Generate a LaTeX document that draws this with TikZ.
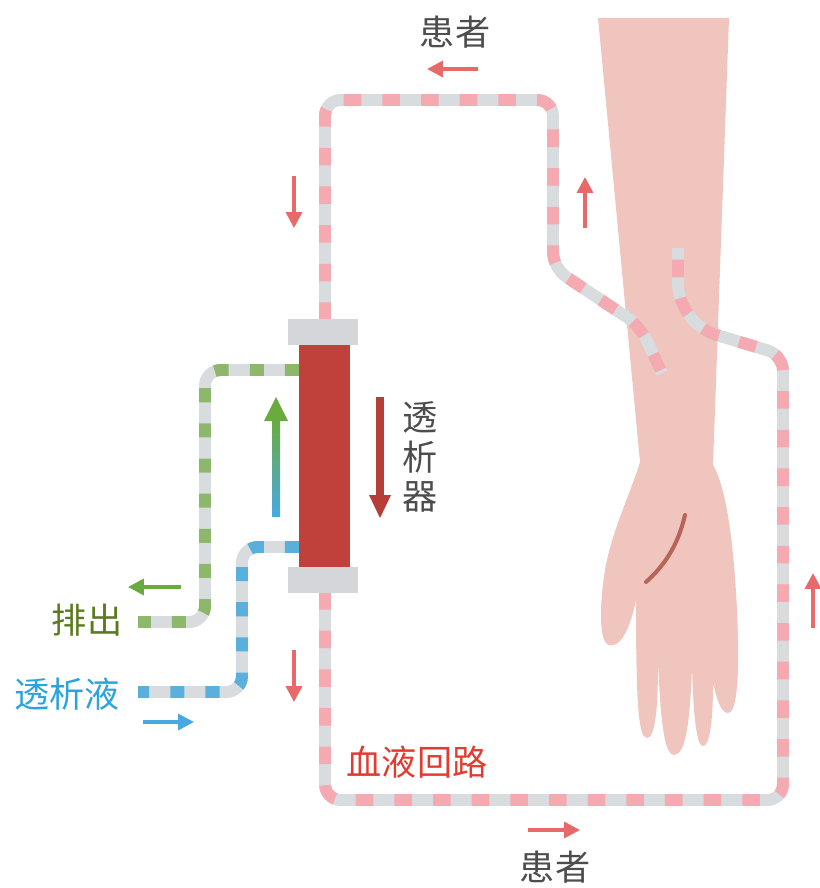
\documentclass[tikz,border=0pt]{standalone}
\usepackage{fontspec}
\setmainfont{Noto Sans CJK SC}
\usetikzlibrary{arrows.meta}

\definecolor{skin}{HTML}{F0C5BE}
\definecolor{scar}{HTML}{B8645A}
\definecolor{tubegray}{HTML}{D8DCDF}
\definecolor{bloodpink}{HTML}{F5A9B1}
\definecolor{drainfill}{HTML}{8DB86C}
\definecolor{fluidfill}{HTML}{5AB0DC}
\definecolor{dlzred}{HTML}{C0403B}
\definecolor{capgray}{HTML}{D4D6D9}
\definecolor{flowred}{HTML}{E8696A}
\definecolor{drainarrow}{HTML}{6AAB40}
\definecolor{fluidarrow}{HTML}{4AA8E0}
\definecolor{labelgray}{HTML}{4D4D4D}
\definecolor{draintext}{HTML}{5B7A1E}
\definecolor{fluidtext}{HTML}{2AA4DC}
\definecolor{circuittext}{HTML}{E03C31}

\begin{document}
\begin{tikzpicture}[x=0.02cm,y=-0.02cm,
  tube/.style={line width=6.8pt,draw=tubegray,rounded corners=9pt},
  blood/.style={tube,postaction={draw=bloodpink,dash pattern=on 10pt off 12pt}},
  drain/.style={tube,postaction={draw=drainfill,dash pattern=on 8pt off 12pt}},
  fluid/.style={tube,postaction={draw=fluidfill,dash pattern=on 8pt off 12pt}},
  flow/.style={line width=2pt,-{Triangle[length=9pt,width=9pt]}},
  lbl/.style={font=\fontsize{20pt}{24pt}\selectfont}]
  \useasboundingbox (0,0) rectangle (819,888);

  % forearm and hand
  \fill[skin] (598,18) -- (729,18) -- (713,465)
    .. controls (728,490) and (736,560) .. (738,640)
    .. controls (739,690) and (735,713) .. (728,713)
    .. controls (720,713) and (716,695) .. (713,683)
    .. controls (713,720) and (710,746) .. (703,746)
    .. controls (695,746) and (693,700) .. (692,667)
    .. controls (690,720) and (686,755) .. (674,755)
    .. controls (662,755) and (660,700) .. (658,663)
    .. controls (658,710) and (655,738) .. (647,738)
    .. controls (638,738) and (636,700) .. (636,600)
    .. controls (630,630) and (620,648) .. (609,645)
    .. controls (598,642) and (600,600) .. (605,570)
    .. controls (612,530) and (630,495) .. (640,462) -- cycle;
  \draw[scar,line width=2.3pt,line cap=round] (685,515) .. controls (678,545) and (665,565) .. (646,582);

  % dialyzer ports
  \coordinate (dtop) at (325,320);
  \coordinate (dbot) at (325,592);
  \coordinate (dout) at (299,370);
  \coordinate (din) at (299,547);

  % blood lines
  \draw[blood] (dtop) -- (325,100) -- (553,100) -- (553,268) -- (640,326) -- (662,373);
  \draw[blood] (dbot) -- (325,800) -- (783,800) -- (783,355) -- (700,330) -- (678,300) -- (678,248);

  % dialysate lines
  \draw[drain] (dout) -- (205,370) -- (205,622) -- (138,622);
  \draw[fluid] (din) -- (242,547) -- (242,692) -- (138,692);

  % dialyzer
  \fill[capgray] (288,319) rectangle (358,345);
  \fill[capgray] (288,567) rectangle (358,593);
  \fill[dlzred] (299,345) rectangle (350,567);

  % flow inside the dialyzer
  \shade[bottom color=fluidarrow,top color=drainarrow] (272,516) rectangle (280,420);
  \fill[drainarrow] (264,421) -- (288,421) -- (276,397) -- cycle;
  \fill[dlzred!95!black] (376,397) rectangle (384,496);
  \fill[dlzred!95!black] (369,495) -- (391,495) -- (380,518) -- cycle;

  % flow arrows
  \draw[flow,flowred] (478,69) -- (427,69);
  \draw[flow,flowred] (294,176) -- (294,228);
  \draw[flow,flowred] (585,228) -- (585,177);
  \draw[flow,flowred] (294,650) -- (294,702);
  \draw[flow,flowred] (813,628) -- (813,573);
  \draw[flow,flowred] (528,830) -- (580,830);
  \draw[flow,drainarrow] (181,587) -- (128,587);
  \draw[flow,fluidarrow] (143,722) -- (194,722);

  % labels
  \node[lbl,text=labelgray] (ptop) at (455,32) {患者};
  \node[lbl,text=labelgray] (pbot) at (555,867) {患者};
  \node[lbl,text=labelgray,align=center,font=\fontsize{20pt}{22.5pt}\selectfont] (dlzlabel) at (420,457) {透\\析\\器};
  \node[lbl,text=draintext] (drainlbl) at (87,620) {排出};
  \node[lbl,text=fluidtext] (fluidlbl) at (67,694) {透析液};
  \node[lbl,text=circuittext] (circuitlbl) at (417,762) {血液回路};
\end{tikzpicture}
\end{document}
